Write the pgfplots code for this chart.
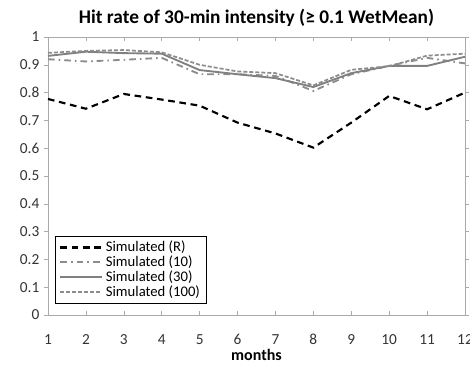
\documentclass[border=0pt]{standalone}
\usepackage{pgfplots}
\pgfplotsset{compat=1.18}
\usepackage{fontspec}
\setmainfont{Carlito}
\definecolor{lgray}{RGB}{128,128,128}
\definecolor{lgray2}{RGB}{140,140,140}
\definecolor{frame}{RGB}{170,170,170}
\begin{document}
\begin{tikzpicture}
\begin{axis}[
  scale only axis,
  width=312.75pt, height=208.5pt,
  xmin=1, xmax=12, ymin=0, ymax=1,
  xtick={1,...,12},
  ytick={0,0.1,...,1.01},
  /pgf/number format/assume math mode=true,
  yticklabel={\pgfmathprintnumber[fixed,precision=1]{\tick}},
  ticklabel style={font=\fontsize{11.5}{13}\selectfont, text=black!80},
  xticklabel style={yshift=-11pt},
  axis line style={frame},
  tick style={frame, thin},
  xtick align=inside, ytick align=outside,
  major tick length=3pt,
  title={\textbf{Hit rate of 30-min intensity (≥ 0.1 WetMean)}},
  title style={font=\fontsize{14.5}{16}\selectfont, yshift=-1.5pt},
  xlabel={\textbf{months}},
  xlabel style={font=\fontsize{12}{14}\selectfont, yshift=4pt},
  legend cell align=left,
  legend style={at={(rel axis cs:0.017,0.043)}, anchor=south west,
    draw=black, thin, font=\fontsize{11}{12}\selectfont, row sep=-2.5pt,
    inner xsep=3pt, inner ysep=1.5pt},
  legend image code/.code={\draw[#1] (0cm,0cm) -- (1.1cm,0cm);},
]
\addplot[black, line width=1.6pt, dash pattern=on 5pt off 3.5pt] coordinates {
(1,0.777) (2,0.742) (3,0.795) (4,0.775) (5,0.753) (6,0.692) (7,0.653) (8,0.602) (9,0.692) (10,0.788) (11,0.740) (12,0.800)};
\addlegendentry{Simulated (R)}
\addplot[lgray2, line width=1.4pt, dash pattern=on 5pt off 3pt on 1.2pt off 3pt] coordinates {
(1,0.920) (2,0.912) (3,0.918) (4,0.925) (5,0.866) (6,0.866) (7,0.860) (8,0.806) (9,0.866) (10,0.896) (11,0.925) (12,0.905)};
\addlegendentry{Simulated (10)}
\addplot[lgray, line width=1.4pt] coordinates {
(1,0.932) (2,0.947) (3,0.942) (4,0.940) (5,0.881) (6,0.866) (7,0.852) (8,0.820) (9,0.870) (10,0.896) (11,0.896) (12,0.929)};
\addlegendentry{Simulated (30)}
\addplot[lgray2, line width=1.3pt, dash pattern=on 3pt off 1.5pt] coordinates {
(1,0.943) (2,0.950) (3,0.953) (4,0.945) (5,0.900) (6,0.876) (7,0.870) (8,0.826) (9,0.882) (10,0.895) (11,0.933) (12,0.940)};
\addlegendentry{Simulated (100)}
\end{axis}
\pgfresetboundingbox
\useasboundingbox ([xshift=-36pt,yshift=-39pt]current axis.south west) rectangle ([xshift=3.75pt,yshift=27.75pt]current axis.north east);
\end{tikzpicture}
\end{document}
